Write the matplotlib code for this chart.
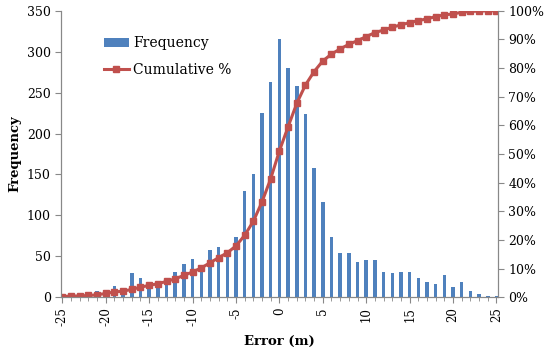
import matplotlib
matplotlib.use('Agg')
import matplotlib.pyplot as plt
from matplotlib.ticker import MultipleLocator, FuncFormatter

# error bins (m)
errors = list(range(-25, 26))

# frequency per bin
frequency = [0, 0, 0, 1, 8, 9, 14, 8, 29, 24,
             18, 20, 24, 31, 41, 47, 39, 58, 61, 57,
             73, 130, 151, 225, 263, 316, 280, 258, 224, 158,
             116, 74, 54, 54, 43, 45, 46, 31, 29, 31,
             31, 23, 19, 16, 27, 13, 18, 8, 4, 2,
             1]

# cumulative percentage
cumulative = [0.2, 0.4, 0.4, 0.6, 0.8, 1.3, 1.8, 2.1, 2.7, 3.5,
              4.1, 4.7, 5.5, 6.4, 7.6, 8.8, 10.2, 12.0, 13.8, 15.5,
              17.9, 21.6, 26.5, 33.3, 41.4, 51.1, 59.5, 67.7, 74.1, 78.8,
              82.5, 84.9, 86.7, 88.3, 89.6, 91.0, 92.4, 93.3, 94.3, 95.1,
              95.9, 96.6, 97.2, 98.0, 98.6, 98.9, 99.5, 99.8, 99.9, 100.0,
              100.0]

plt.rcParams['font.family'] = ['DejaVu Serif']
plt.rcParams['font.size'] = 9
plt.rcParams['axes.unicode_minus'] = False

fig = plt.figure(figsize=(5.5, 3.5), dpi=100)
ax = fig.add_axes([0.111, 0.151, 0.794, 0.818])
ax2 = ax.twinx()

bars = ax.bar(errors, frequency, width=0.4, color='#4F81BD', label='Frequency', zorder=2)
line, = ax2.plot(errors, cumulative, color='#C0504D', lw=2.2, marker='s',
                 markersize=4.5, markeredgecolor='#C0504D', label='Cumulative %')

ax.set_xlim(-25.15, 25.15)
ax.set_ylim(0, 350)
ax2.set_ylim(0, 100)

ax.yaxis.set_major_locator(MultipleLocator(50))
ax2.yaxis.set_major_locator(MultipleLocator(10))
ax2.yaxis.set_major_formatter(FuncFormatter(lambda v, p: '%d%%' % v))

ax.xaxis.set_major_locator(MultipleLocator(5))
ax.xaxis.set_minor_locator(MultipleLocator(1))
ax.tick_params(axis='x', which='major', labelrotation=90, length=4, color='#888888', labelsize=8.5)
ax.tick_params(axis='x', which='minor', length=3, color='#888888')
ax.tick_params(axis='y', length=4, color='#888888', labelsize=9)
ax2.tick_params(axis='y', length=4, color='#888888', labelsize=9)

for a in (ax, ax2):
    a.spines['top'].set_visible(False)
    for s in ('left', 'right', 'bottom'):
        a.spines[s].set_color('#888888')

ax.set_xlabel('Error (m)', fontweight='bold', fontsize=9.5, labelpad=6)
ax.set_ylabel('Frequency', fontweight='bold', fontsize=9.5, labelpad=4)

ax.legend([bars, line], ['Frequency', 'Cumulative %'], loc='upper left',
          bbox_to_anchor=(0.085, 0.93), frameon=False, fontsize=10,
          handlelength=1.8, handletextpad=0.3, labelspacing=0.9, borderaxespad=0)

fig.savefig('out.png', dpi=100)
